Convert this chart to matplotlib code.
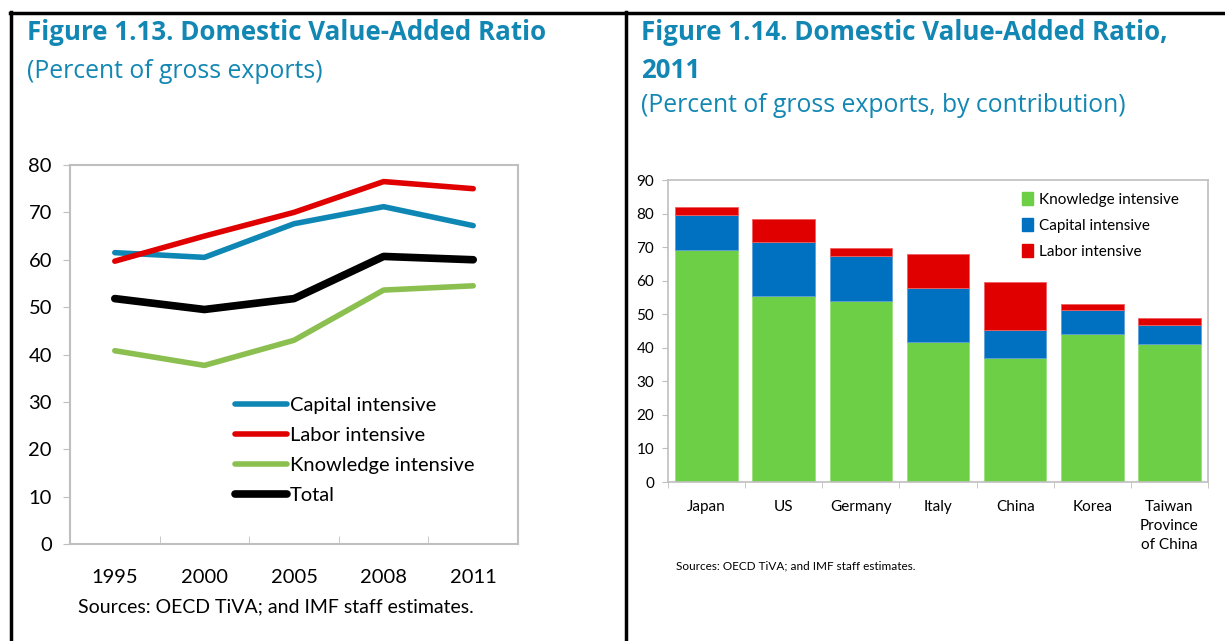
import numpy as np
import matplotlib
matplotlib.use("Agg")
import matplotlib.pyplot as plt
from matplotlib.lines import Line2D
from matplotlib.patches import Patch

# --- data: Figure 1.13 (lines) ---
years = ["1995", "2000", "2005", "2008", "2011"]
capital_line = [61.5, 60.5, 67.6, 71.2, 67.2]
labor_line = [59.7, 65.0, 70.0, 76.5, 75.0]
knowledge_line = [40.8, 37.7, 43.0, 53.6, 54.5]
total_line = [51.8, 49.5, 51.8, 60.7, 60.0]

# --- data: Figure 1.14 (stacked bars, 2011) ---
countries = ["Japan", "US", "Germany", "Italy", "China", "Korea", "Taiwan\nProvince\nof China"]
knowledge_bar = [69.0, 55.5, 54.0, 41.8, 36.9, 44.0, 41.2]
capital_bar = [10.5, 16.0, 13.3, 15.9, 8.5, 7.2, 5.6]
labor_bar = [2.5, 6.8, 2.3, 10.1, 14.3, 1.8, 2.0]

title_col = "#1387b3"
frame_col = "#bfbfbf"
tfont = "Open Sans"
cfont = "Lato"

fig = plt.figure(figsize=(12.25, 6.41), dpi=100)
W, H = 1225, 641

def fx(px):
    return px / W

def fy(py):
    return 1 - py / H

# outer borders
fig.add_artist(Line2D([fx(11), fx(11)], [fy(12), 0], color="black", lw=2.5))
fig.add_artist(Line2D([fx(10), 1], [fy(12.5), fy(12.5)], color="black", lw=2.5))
fig.add_artist(Line2D([fx(626), fx(626)], [fy(12), 0], color="black", lw=2.5))

# titles
fig.text(fx(27), fy(33), "Figure 1.13. Domestic Value-Added Ratio", color=title_col,
         fontsize=18.6, fontweight="bold", family=tfont, va="center")
fig.text(fx(27), fy(72), "(Percent of gross exports)", color=title_col,
         fontsize=17.8, family=tfont, va="center")
fig.text(fx(641), fy(33), "Figure 1.14. Domestic Value-Added Ratio,", color=title_col,
         fontsize=18.6, fontweight="bold", family=tfont, va="center")
fig.text(fx(641), fy(70), "2011", color=title_col,
         fontsize=18.6, fontweight="bold", family=tfont, va="center")
fig.text(fx(641), fy(105), "(Percent of gross exports, by contribution)", color=title_col,
         fontsize=17.8, family=tfont, va="center")

# --- left: line chart ---
ax1 = fig.add_axes([fx(70), fy(544), fx(518) - fx(70), fy(165) - fy(544)])
x = np.arange(len(years))
ax1.plot(x, capital_line, color="#0f87b5", lw=4, solid_capstyle="round", label="Capital intensive")
ax1.plot(x, labor_line, color="#e00000", lw=4, solid_capstyle="round", label="Labor intensive")
ax1.plot(x, knowledge_line, color="#8bbf4f", lw=4, solid_capstyle="round", label="Knowledge intensive")
ax1.plot(x, total_line, color="black", lw=5.5, solid_capstyle="round", label="Total")
ax1.set_xlim(-0.5, len(years) - 0.5)
ax1.set_ylim(0, 80)
ax1.set_yticks(np.arange(0, 81, 10))
ax1.set_xticks(x)
ax1.set_xticklabels(years)
ax1.set_xticks(np.arange(0.5, len(years) - 0.5, 1), minor=True)
ax1.tick_params(axis="x", which="major", length=0, pad=18, labelsize=14.5)
ax1.tick_params(axis="x", which="minor", length=6, direction="in", color=frame_col)
ax1.tick_params(axis="y", length=5, direction="out", color=frame_col, labelsize=14.5, pad=8)
for lab in ax1.get_xticklabels() + ax1.get_yticklabels():
    lab.set_family(cfont)
for s in ax1.spines.values():
    s.set_color(frame_col)
    s.set_linewidth(1.5)
leg1 = ax1.legend(loc="upper left", bbox_to_anchor=(0.35, 0.41), frameon=False,
                  prop={"family": cfont, "size": 14.5}, handlelength=2.6,
                  handletextpad=0.15, labelspacing=0.64, borderaxespad=0)
fig.text(fx(78), fy(607), "Sources: OECD TiVA; and IMF staff estimates.",
         fontsize=14, family=cfont, va="center")

# --- right: stacked bars ---
ax2 = fig.add_axes([fx(668), fy(482), fx(1208) - fx(668), fy(180) - fy(482)])
xb = np.arange(len(countries))
kb = np.array(knowledge_bar)
cb = np.array(capital_bar)
lb = np.array(labor_bar)
ax2.bar(xb, kb, width=0.81, color="#6dcf45", edgecolor="#9be07a", lw=0.6, label="Knowledge intensive")
ax2.bar(xb, cb, width=0.81, bottom=kb, color="#0070c0", edgecolor="#5f9fd8", lw=0.6, label="Capital intensive")
ax2.bar(xb, lb, width=0.81, bottom=kb + cb, color="#e00000", edgecolor="#f06060", lw=0.6, label="Labor intensive")
ax2.set_xlim(-0.5, len(countries) - 0.5)
ax2.set_ylim(0, 90)
ax2.set_yticks(np.arange(0, 91, 10))
ax2.set_xticks(xb)
ax2.set_xticklabels(countries, linespacing=1.45)
ax2.set_xticks(np.arange(-0.5, len(countries), 1), minor=True)
ax2.tick_params(axis="x", which="major", length=0, pad=13, labelsize=11)
ax2.tick_params(axis="x", which="minor", length=4, direction="out", color=frame_col)
ax2.tick_params(axis="y", length=4, direction="out", color=frame_col, labelsize=11, pad=6)
for lab in ax2.get_xticklabels() + ax2.get_yticklabels():
    lab.set_family(cfont)
for lab in ax2.get_xticklabels():
    lab.set_verticalalignment("top")
for s in ax2.spines.values():
    s.set_color(frame_col)
    s.set_linewidth(1.2)
handles = [Patch(color="#6dcf45"), Patch(color="#0070c0"), Patch(color="#e00000")]
ax2.legend(handles, ["Knowledge intensive", "Capital intensive", "Labor intensive"],
           loc="upper left", bbox_to_anchor=(0.645, 0.98), frameon=False,
           prop={"family": cfont, "size": 11}, handlelength=0.7, handleheight=0.9,
           handletextpad=0.4, labelspacing=0.75, borderaxespad=0)
fig.text(fx(676), fy(566), "Sources: OECD TiVA; and IMF staff estimates.",
         fontsize=8.5, family=cfont, va="center")

fig.savefig("out.png", dpi=100)
